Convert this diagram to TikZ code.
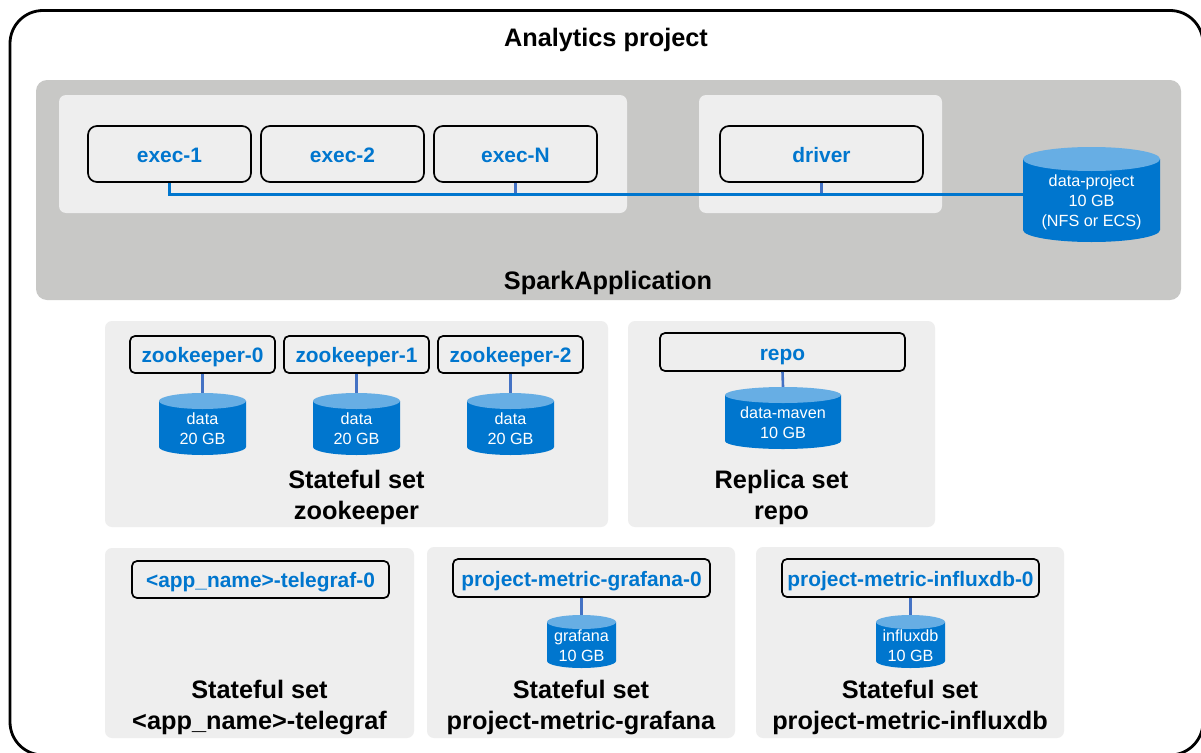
\documentclass[tikz,border=0pt]{standalone}
\usepackage{fontspec}
\setmainfont{Liberation Sans}
\definecolor{dellblue}{HTML}{0076CE}
\definecolor{lidblue}{HTML}{67AEE4}
\definecolor{stub}{HTML}{4472C4}
\definecolor{panelgray}{HTML}{C8C8C6}
\definecolor{paneltint}{HTML}{EEEEEE}
\tikzset{
  region/.style={fill=paneltint,draw=none,rounded corners=7pt},
  podbox/.style={draw=black,line width=1.7pt,fill=paneltint,inner sep=0pt,text=dellblue,
    text height=19pt,text depth=3pt,
    font=\fontsize{20.9}{25}\selectfont\bfseries},
  heading/.style={inner sep=0pt,align=center,text=black,
    font=\fontsize{25.3}{31}\selectfont\bfseries},
  cyltext/.style={inner sep=0pt,align=center,text=white},
  bus/.style={draw=dellblue,line width=2.4pt},
  stubline/.style={draw=stub,line width=2.6pt},
}
% \pod{name}{x1}{y1}{x2}{y2}{radius}{text}
\newcommand{\pod}[7]{%
  \node[podbox,rounded corners=#6,minimum width={(#4-#2)*1pt},minimum height={(#5-#3)*1pt}]
    (#1) at ({(#2+#4)/2},{(#3+#5)/2}) {#7};}
% \store{name}{x1}{y1}{x2}{y2}{ry}{font size}{leading}{text}
\newcommand{\store}[9]{%
  \fill[dellblue] (#2,#3+#6) -- (#2,#5-#6) arc[start angle=180,end angle=360,x radius={(#4-#2)/2},y radius=-#6]
     -- (#4,#3+#6) -- cycle;
  \fill[lidblue] ({(#2+#4)/2},#3+#6) ellipse[x radius={(#4-#2)/2},y radius=#6];
  \node[cyltext,font=\fontsize{#7}{#8}\selectfont,minimum width={(#4-#2)*1pt},minimum height={(#5-#3)*1pt}]
    (#1) at ({(#2+#4)/2},{(#3+#5)/2}) {};
  \node[cyltext,font=\fontsize{#7}{#8}\selectfont] (#1t) at ({(#2+#4)/2},{(#3+2*#6+#5-#6*0.6)/2-0.5}) {#9};}
\begin{document}
\begin{tikzpicture}[x=1pt,y=-1pt]
\useasboundingbox (0,0) rectangle (1201,752);
\fill[white] (0,0) rectangle (1201,752);
% outer
\draw[black,line width=2.8pt,rounded corners=33pt] (10,10.5) rectangle (1203,755);
\node[heading] (title) at (606,39.5) {Analytics project};
% spark application
\fill[panelgray,rounded corners=11pt] (36,80) rectangle (1181,300);
\fill[region] (59,95) rectangle (627,213);
\fill[region] (699,95) rectangle (942,213);
\node[heading] (spark) at (608,283) {SparkApplication};
\pod{exec1}{88}{126}{251}{182}{9pt}{exec-1}
\pod{exec2}{261}{126}{424}{182}{9pt}{exec-2}
\pod{execN}{434}{126}{597}{182}{9pt}{exec-N}
\pod{driver}{720}{126}{923}{182}{9pt}{driver}
\store{dataproj}{1023}{147}{1160}{242}{12}{16.2}{20}{data-project\\10 GB\\(NFS or ECS)}
\draw[stubline] (execN.south) -- (execN.south |- dataproj.west);
\draw[stubline] (driver.south) -- (driver.south |- dataproj.west);
\draw[bus] (exec1.south) |- (dataproj.west);
% row 2
\fill[region] (105,321) rectangle (608,527);
\fill[region] (628,321) rectangle (935,527);
\pod{zk0}{130}{336}{275}{373}{5pt}{zookeeper-0}
\pod{zk1}{284}{336}{429}{373}{5pt}{zookeeper-1}
\pod{zk2}{438}{336}{583}{373}{5pt}{zookeeper-2}
\store{zd0}{159}{393}{246}{455}{8}{16.2}{20}{data\\20 GB}
\store{zd1}{313}{393}{400}{455}{8}{16.2}{20}{data\\20 GB}
\store{zd2}{467}{393}{554}{455}{8}{16.2}{20}{data\\20 GB}
\draw[stubline] (zk0.south) -- (zd0.north);
\draw[stubline] (zk1.south) -- (zd1.north);
\draw[stubline] (zk2.south) -- (zd2.north);
\node[heading] (zklabel) at (356.5,497.5) {Stateful set\\zookeeper};
\pod{repo}{660}{333}{905}{371}{5pt}{repo}
\store{mvn}{725}{387}{841}{449}{8}{16.2}{20}{data-maven\\10 GB}
\draw[stubline] (repo.south) -- (mvn.north);
\node[heading] (repolabel) at (781.5,497.5) {Replica set\\repo};
% row 3
\fill[region] (105,548) rectangle (414,738);
\fill[region] (427,547) rectangle (735,738);
\fill[region] (756,547) rectangle (1064,738);
\pod{tele}{132}{561}{389}{598}{5pt}{<app\_name>-telegraf-0}
\pod{graf}{453}{559}{710}{597}{5pt}{project-metric-grafana-0}
\pod{infl}{782}{559}{1039}{597}{5pt}{project-metric-influxdb-0}
\store{gd}{547}{615}{616}{668}{7}{16.2}{20}{grafana\\10 GB}
\store{id}{876}{615}{945}{668}{7}{16.2}{20}{influxdb\\10 GB}
\draw[stubline] (graf.south) -- (gd.north);
\draw[stubline] (infl.south) -- (id.north);
\node[heading] (telelabel) at (259.5,707.5) {Stateful set\\<app\_name>-telegraf};
\node[heading] (graflabel) at (581,707.5) {Stateful set\\project-metric-grafana};
\node[heading] (infllabel) at (910,707.5) {Stateful set\\project-metric-influxdb};
\end{tikzpicture}
\end{document}
